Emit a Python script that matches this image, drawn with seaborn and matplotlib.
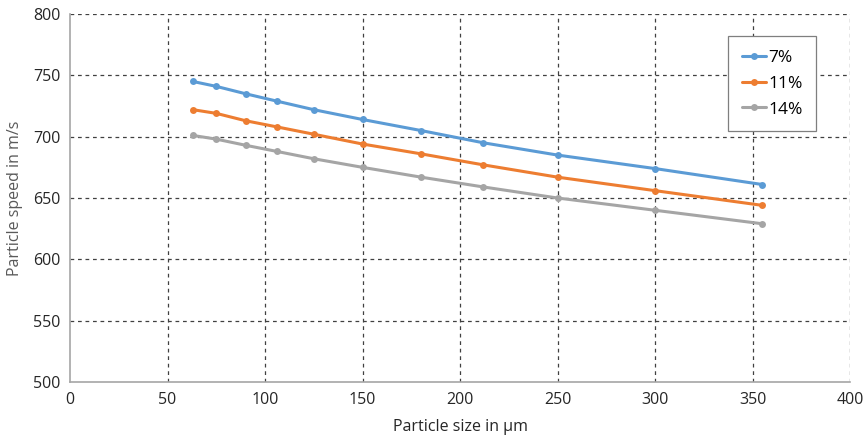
import matplotlib
matplotlib.use("Agg")
import matplotlib.pyplot as plt
import seaborn as sns
import pandas as pd

sizes = [63, 75, 90, 106, 125, 150, 180, 212, 250, 300, 355]
speed_7 = [745, 741, 735, 729, 722, 714, 705, 695, 685, 674, 661]
speed_11 = [722, 719, 713, 708, 702, 694, 686, 677, 667, 656, 644]
speed_14 = [701, 698, 693, 688, 682, 675, 667, 659, 650, 640, 629]
series_labels = ["7%", "11%", "14%"]
colors = ["#5B9BD5", "#ED7D31", "#A5A5A5"]

df = pd.DataFrame({
    "size": sizes * 3,
    "speed": speed_7 + speed_11 + speed_14,
    "series": [series_labels[0]] * len(sizes) + [series_labels[1]] * len(sizes) + [series_labels[2]] * len(sizes),
})

sns.set_style("white")
plt.rcParams["font.family"] = ["Open Sans", "DejaVu Sans"]

fig = plt.figure(figsize=(8.67, 4.4), dpi=100)
ax = fig.add_axes([70 / 867, 1 - 382 / 440, 780 / 867, 368 / 440])

sns.lineplot(data=df, x="size", y="speed", hue="series", hue_order=series_labels,
             palette=colors, marker="o", markersize=5, markeredgewidth=0,
             linewidth=2.2, ax=ax)

ax.set_xlim(0, 400)
ax.set_ylim(500, 800)
ax.set_xticks(range(0, 401, 50))
ax.set_yticks(range(500, 801, 50))
ax.grid(True, linestyle=(0, (3, 3)), color="#404040", linewidth=0.9)
ax.set_axisbelow(True)
ax.get_xgridlines()[0].set_visible(False)
ax.get_ygridlines()[0].set_visible(False)
for s in ["top", "right"]:
    ax.spines[s].set_visible(False)
for s in ["left", "bottom"]:
    ax.spines[s].set_color("#A6A6A6")
    ax.spines[s].set_linewidth(1.2)
ax.tick_params(axis="both", length=0, labelsize=11.5, colors="#262626", pad=7)
ax.set_xlabel("Particle size in µm", fontsize=11.5, color="#262626", labelpad=8)
ax.set_ylabel("Particle speed in m/s", fontsize=11.5, color="#595959", labelpad=7)

leg = ax.legend(loc="upper left", bbox_to_anchor=(0.8436, 0.940), fontsize=12.5,
                frameon=True, fancybox=False, edgecolor="#7F7F7F", framealpha=1,
                handlelength=1.4, handletextpad=0.1, labelspacing=0.55, borderpad=0.8,
                borderaxespad=0)
leg.get_frame().set_linewidth(0.9)
for t in leg.get_texts():
    t.set_color("#000000")

fig.savefig("out.png", dpi=100)
